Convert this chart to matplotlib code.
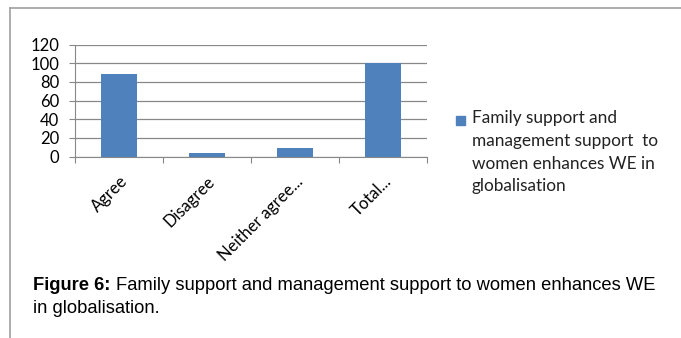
import numpy as np
import matplotlib.pyplot as plt
from matplotlib.patches import Rectangle

categories = ["Agree", "Disagree", "Neither agree...", "Total..."]
values = [88, 4, 9, 100]
yticks = [0, 20, 40, 60, 80, 100, 120]
legend_text = "Family support and\nmanagement support  to\nwomen enhances WE in\nglobalisation"

bar_color = "#4F81BD"
grid_color = "#888888"

fig = plt.figure(figsize=(6.81, 3.38), dpi=100)

# outer frame (left and top edges of the page box)
fig.add_artist(plt.Line2D([10/681, 10/681], [0, 1 - 8/338], color="#a0a0a0", lw=1.2))
fig.add_artist(plt.Line2D([10/681, 1], [1 - 8/338, 1 - 8/338], color="#a0a0a0", lw=1.2))

ax = fig.add_axes([75/681, 1 - 156.5/338, 352/681, 112/338])
x = np.arange(len(categories))
ax.bar(x, values, width=0.4, color=bar_color, zorder=3)
ax.set_xlim(-0.5, len(categories) - 0.5)
ax.set_ylim(0, 120)
ax.set_yticks(yticks)
ax.yaxis.grid(True, color=grid_color, lw=0.9)
ax.set_axisbelow(True)

for s in ["top", "right"]:
    ax.spines[s].set_visible(False)
ax.spines["left"].set_color(grid_color)
ax.spines["bottom"].set_color(grid_color)

ax.set_xticks(np.arange(len(categories) + 1) - 0.5, minor=False)
ax.set_xticklabels([])
ax.tick_params(axis="x", length=4.5, color=grid_color)
ax.set_xticks(x, minor=True)
ax.set_xticklabels(categories, minor=True, rotation=45, ha="right",
                   rotation_mode="anchor", fontsize=12, family="Lato")
ax.tick_params(axis="x", which="minor", length=0, pad=12)
ax.tick_params(axis="y", length=4.5, color=grid_color, labelsize=12, pad=7)
for lbl in ax.get_yticklabels():
    lbl.set_family("Lato")

# legend
fig.add_artist(Rectangle((456/681, 1 - 125/338), 9/681, 9/338,
                         transform=fig.transFigure, color=bar_color))
fig.text(472/681, 1 - 110/338, legend_text, fontsize=12.4, family="Lato",
         va="top", ha="left", linespacing=1.52, color="#222222")

# caption
fig.text(33/681, 1 - 290/338, "Figure 6:", fontsize=13.2, fontweight="bold",
         family="Liberation Sans", va="baseline", ha="left")
fig.text(116/681, 1 - 290/338,
         "Family support and management support to women enhances WE",
         fontsize=13.2, family="Liberation Sans", va="baseline", ha="left")
fig.text(33/681, 1 - 313/338, "in globalisation.", fontsize=13.2,
         family="Liberation Sans", va="baseline", ha="left")

fig.savefig("out.png", dpi=100)
